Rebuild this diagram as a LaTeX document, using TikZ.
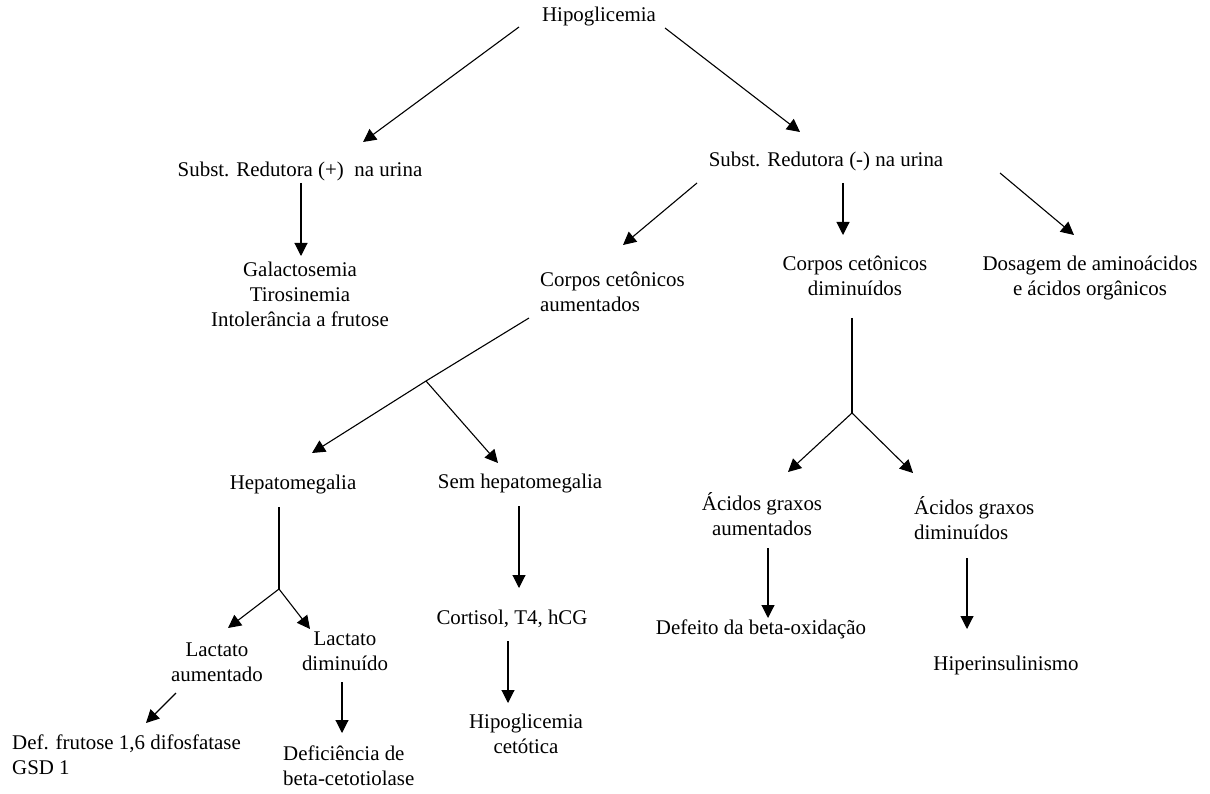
\documentclass[tikz,border=0pt]{standalone}
\usepackage{fontspec}
\setmainfont{Liberation Serif}
\usetikzlibrary{arrows.meta,calc}
\tikzset{
  lbl/.style={inner sep=0pt, font=\fontsize{20.9}{25}\selectfont, align=center},
  lblL/.style={lbl, align=left, anchor=west},
  arr/.style={-{Triangle[length=13pt,width=13pt]}, line width=1.1pt},
  ln/.style={line width=1.1pt}
}
\begin{document}
\begin{tikzpicture}[x=1pt,y=-1pt]
\useasboundingbox (0,0) rectangle (1210,794);
% nodes
\node[lbl] (hipo) at (599,17) {\strut Hipoglicemia};
\node[lbl] (subp) at (300,172) {\strut Subst. Redutora (+)\ \ na urina};
\node[lbl] (subm) at (826,162) {\strut Subst. Redutora (-) na urina};
\node[lbl] (gal) at (300,297) {\strut Galactosemia\\\strut Tirosinemia\\\strut Intolerância a frutose};
\node[lblL] (caum) at (540,294) {\strut Corpos cetônicos\\\strut aumentados};
\node[lbl] (cdim) at (855,278.5) {\strut Corpos cetônicos\\\strut diminuídos};
\node[lbl] (dos) at (1090,278.5) {\strut Dosagem de aminoácidos\\\strut e ácidos orgânicos};
\node[lbl] (hep) at (293,484) {\strut Hepatomegalia};
\node[lbl] (sem) at (520,483) {\strut Sem hepatomegalia};
\node[lbl] (laum) at (217,663.5) {\strut Lactato\\\strut aumentado};
\node[lbl] (ladim) at (345,652.5) {\strut Lactato\\\strut diminuído};
\node[lblL] (def) at (12,756.5) {\strut Def. frutose 1,6 difosfatase\\\strut GSD 1};
\node[lblL] (defb) at (283,767.5) {\strut Deficiência de\\\strut beta-cetotiolase};
\node[lbl] (cort) at (512,619) {\strut Cortisol, T4, hCG};
\node[lbl] (hcet) at (526,736) {\strut Hipoglicemia\\\strut cetótica};
\node[lbl] (agau) at (762,518) {\strut Ácidos graxos\\\strut aumentados};
\node[lblL] (agdim) at (914,522) {\strut Ácidos graxos\\\strut diminuídos};
\node[lbl] (defbo) at (761,629) {\strut Defeito da beta-oxidação};
\node[lbl] (hiper) at (1006,665) {\strut Hiperinsulinismo};
% junctions
\coordinate (j1) at (426,381);
\coordinate (j2) at (279,589);
\coordinate (j3) at (852,413);
% connectors
\draw[arr] ($(hipo)+(-80,10)$) -- ($(subp)+(63,-30)$);
\draw[arr] ($(hipo)+(66,11)$) -- ($(subm)+(-26,-30)$);
\draw[arr] ($(subp)+(1,11)$) -- ($(gal)+(1,-41)$);
\draw[arr] ($(subm)+(-129,21)$) -- ($(caum.west)+(83,-49)$);
\draw[arr] ($(subm)+(17,21)$) -- ($(cdim)+(-12,-43.5)$);
\draw[arr] ($(subm)+(174,11)$) -- ($(dos)+(-16,-43.5)$);
\draw[ln] ($(caum.west)+(-11,24)$) -- (j1);
\draw[arr] (j1) -- ($(hep)+(19,-31)$);
\draw[arr] (j1) -- ($(sem)+(-22,-20)$);
\draw[ln] ($(cdim)+(-3,39.5)$) -- (j3);
\draw[arr] (j3) -- ($(agau)+(26,-46)$);
\draw[arr] (j3) -- ($(agdim.west)+(-1,-49)$);
\draw[ln] ($(hep)+(-14,23)$) -- (j2);
\draw[arr] (j2) -- ($(laum)+(11,-35.5)$);
\draw[arr] (j2) -- ($(ladim)+(-35,-23.5)$);
\draw[arr] ($(laum)+(-41,29.5)$) -- ($(def.west)+(134,-33.5)$);
\draw[arr] ($(ladim)+(-3,29.5)$) -- ($(defb.west)+(59,-34.5)$);
\draw[arr] ($(sem)+(-1,23)$) -- ($(cort)+(7,-31)$);
\draw[arr] ($(cort)+(-4,22)$) -- ($(hcet)+(-18,-33)$);
\draw[arr] ($(agau)+(6,30)$) -- ($(defbo)+(7,-11)$);
\draw[arr] ($(agdim.west)+(53,36)$) -- ($(hiper)+(-39,-36)$);
\end{tikzpicture}
\end{document}
